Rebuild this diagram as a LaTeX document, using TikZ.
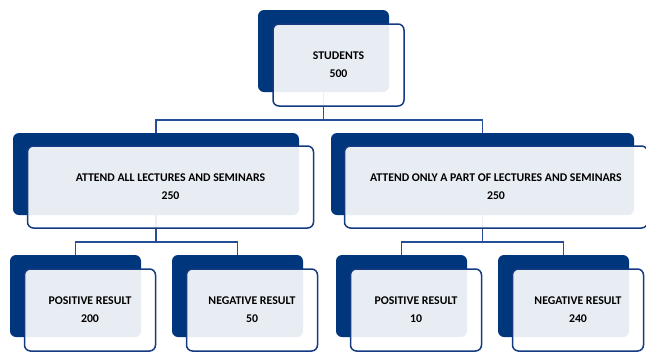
\documentclass[tikz,border=0pt]{standalone}
\usepackage{fontspec}
\setmainfont{Carlito}
\usepackage{xcolor}
\usetikzlibrary{backgrounds}
\definecolor{darkblue}{RGB}{0,54,124}
\definecolor{lineblue}{RGB}{20,58,130}
\definecolor{linkblue}{RGB}{38,78,150}

\begin{document}
\begin{tikzpicture}[x=1pt,y=-1pt,
        back/.style={fill=darkblue,rounded corners=6pt,inner sep=0pt,outer sep=0pt,minimum height=82pt},
        front/.style={draw=lineblue,line width=1.5pt,fill=white,fill opacity=0.91,text opacity=1,
                      rounded corners=6pt,inner sep=0pt,minimum height=82pt,align=center,
                      font=\bfseries\fontsize{11.8}{18}\selectfont},
        link/.style={draw=linkblue,line width=1.5pt}]
        \useasboundingbox (0,0) rectangle (646,354);
        % top level
        \node[back,minimum width=131pt](students) at (323.5,51){};
        \node[front,minimum width=131pt](students_t) at (338.5,65){STUDENTS\\500};
        % second level
        \node[back,minimum width=286pt](all) at (156,174){};
        \node[front,minimum width=286pt](all_t) at (170.5,187){ATTEND ALL LECTURES AND SEMINARS\\250};
        \node[back,minimum width=303pt](part) at (482.5,174){};
        \node[front,minimum width=303pt](part_t) at (496,187){ATTEND ONLY A PART OF LECTURES AND SEMINARS\\250};
        % results
        \node[back,minimum width=131pt](all_pos) at (75.5,296){};
        \node[front,minimum width=131pt](all_pos_t) at (90,310){POSITIVE RESULT\\200};
        \node[back,minimum width=131pt](all_neg) at (237.5,296){};
        \node[front,minimum width=131pt](all_neg_t) at (252,310){NEGATIVE RESULT\\50};
        \node[back,minimum width=131pt](part_pos) at (401.5,296){};
        \node[front,minimum width=131pt](part_pos_t) at (416,310){POSITIVE RESULT\\10};
        \node[back,minimum width=131pt](part_neg) at (563.5,296){};
        \node[front,minimum width=131pt](part_neg_t) at (578,310){NEGATIVE RESULT\\240};

        \begin{scope}[on background layer]
        \draw[link](students.south) -- ++(0,28) -| (all.north);
        \draw[link](students.south) -- ++(0,28) -| (part.north);
        \draw[link](all.south) -- ++(0,27) -| (all_pos.north);
        \draw[link](all.south) -- ++(0,27) -| (all_neg.north);
        \draw[link](part.south) -- ++(0,27) -| (part_pos.north);
        \draw[link](part.south) -- ++(0,27) -| (part_neg.north);
        \end{scope}
\end{tikzpicture}
\end{document}
